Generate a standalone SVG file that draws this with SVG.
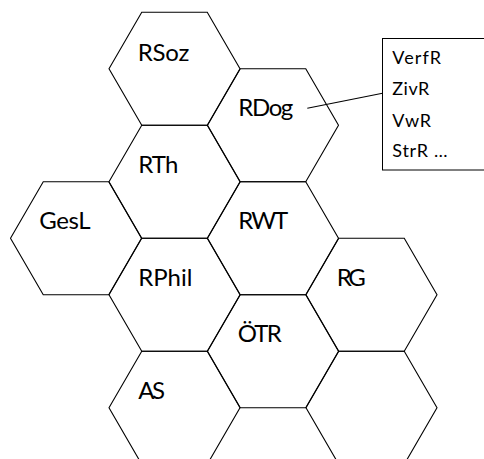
<svg xmlns="http://www.w3.org/2000/svg" width="484" height="459" viewBox="0 0 484 459">
  <defs>
    <!-- flat-top hexagon, circumradius 65.5, centred on the origin -->
    <polygon id="hex" points="-65.5,0 -32.75,-56.5 32.75,-56.5 65.5,0 32.75,56.5 -32.75,56.5"/>
  </defs>
  <style>
    .cell use { fill: none; stroke: #000; stroke-width: 1.1; }
    .lbl { font-family: Lato, "Open Sans", "Liberation Sans", sans-serif; font-size: 24px; fill: #000; }
    .item { font-family: Lato, "Open Sans", "Liberation Sans", sans-serif; font-size: 18px; fill: #000; }
    .box { fill: #fff; stroke: #000; stroke-width: 1; }
    .link { stroke: #000; stroke-width: 1.1; fill: none; }
  </style>
  <rect width="484" height="459" fill="#fff"/>

  <g id="RSoz" class="cell">
    <use href="#hex" x="174.5" y="68.8"/>
    <text class="lbl" x="137.7" y="60.7" textLength="51.6">RSoz</text>
  </g>
  <g id="RDog" class="cell">
    <use href="#hex" x="273" y="125.3"/>
    <text class="lbl" x="238.3" y="116" textLength="55">RDog</text>
  </g>
  <g id="RTh" class="cell">
    <use href="#hex" x="174.5" y="181.8"/>
    <text class="lbl" x="138.3" y="173.3" textLength="40">RTh</text>
  </g>
  <g id="GesL" class="cell">
    <use href="#hex" x="76" y="238.3"/>
    <text class="lbl" x="39.3" y="229.3" textLength="51.3">GesL</text>
  </g>
  <g id="RWT" class="cell">
    <use href="#hex" x="273" y="238.3"/>
    <text class="lbl" x="238.3" y="229" textLength="50">RWT</text>
  </g>
  <g id="RPhil" class="cell">
    <use href="#hex" x="174.5" y="294.8"/>
    <text class="lbl" x="138.3" y="285.7" textLength="54">RPhil</text>
  </g>
  <g id="RG" class="cell">
    <use href="#hex" x="371.5" y="294.8"/>
    <text class="lbl" x="336.7" y="285.7" textLength="29">RG</text>
  </g>
  <g id="OeTR" class="cell">
    <use href="#hex" x="273" y="351.3"/>
    <text class="lbl" x="237.7" y="342.3" textLength="44">ÖTR</text>
  </g>
  <g id="AS" class="cell">
    <use href="#hex" x="174.5" y="407.8"/>
    <text class="lbl" x="138.3" y="399" textLength="26.7">AS</text>
  </g>
  <g id="empty-cell" class="cell">
    <use href="#hex" x="371.5" y="407.8"/>
  </g>

  <g id="connectors">
    <line class="link" x1="307.3" y1="108.3" x2="382.5" y2="93.3"/>
  </g>

  <g id="subjects">
    <rect class="box" x="382.5" y="38.5" width="110" height="131.5"/>
    <text class="item" x="392.3" y="64" textLength="48.7">VerfR</text>
    <text class="item" x="392.3" y="95" textLength="37">ZivR</text>
    <text class="item" x="392.3" y="126.5" textLength="38.7">VwR</text>
    <text class="item" x="392.3" y="156.5" textLength="55.3">StrR …</text>
  </g>
</svg>
